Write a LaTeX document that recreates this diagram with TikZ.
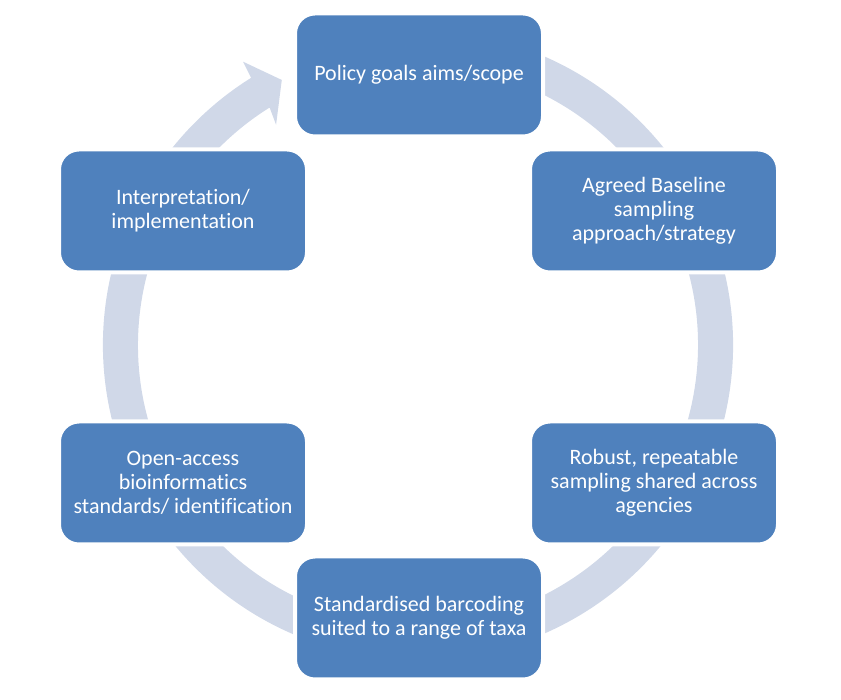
\documentclass[tikz,border=0pt]{standalone}
\usepackage{fontspec}
\setmainfont[Ligatures={NoCommon}]{Carlito}
\usepackage{tikz}
\usetikzlibrary{positioning}
\definecolor{boxblue}{HTML}{4F81BD}
\definecolor{ringblue}{HTML}{D0D8E8}
\tikzset{
  stage/.style = {draw=white, line width=4pt, fill=boxblue, rounded corners=20pt,
                  align=center, text=white, minimum width=248pt, minimum height=123pt,
                  font=\fontsize{22}{24}\selectfont, inner sep=2pt},
  ring/.style  = {fill=ringblue},
}
\begin{document}
\begin{tikzpicture}[x=1pt, y=1pt]
    \useasboundingbox (0,0) rectangle (841,700);
    \coordinate (c) at (418,355);
    % cycle ring with its arrow head
    \begin{scope}[shift={(c)}]
      \fill[ring] (70:315) arc[start angle=70, end angle=-238, radius=315]
        -- (121.7:333) -- (117.2:298) -- (122.8:262) -- (-238:280)
        arc[start angle=-238, end angle=70, radius=280] -- cycle;
    \end{scope}
    % the six stages, clockwise from the top
    \node[stage] (goals) at (419,625) {Policy goals aims/scope};
    \node[stage] (base)  at (654,489) {Agreed Baseline\\ sampling\\ approach/strategy};
    \node[stage] (samp)  at (654,217) {Robust, repeatable\\ sampling shared across\\ agencies};
    \node[stage] (barc)  at (419,82)  {Standardised barcoding\\ suited to a range of taxa};
    \node[stage] (bioinf) at (183,217) {Open-access\\ bioinformatics\\ standards/ identification};
    \node[stage] (interp) at (183,489) {Interpretation/\\ implementation};
\end{tikzpicture}
\end{document}
